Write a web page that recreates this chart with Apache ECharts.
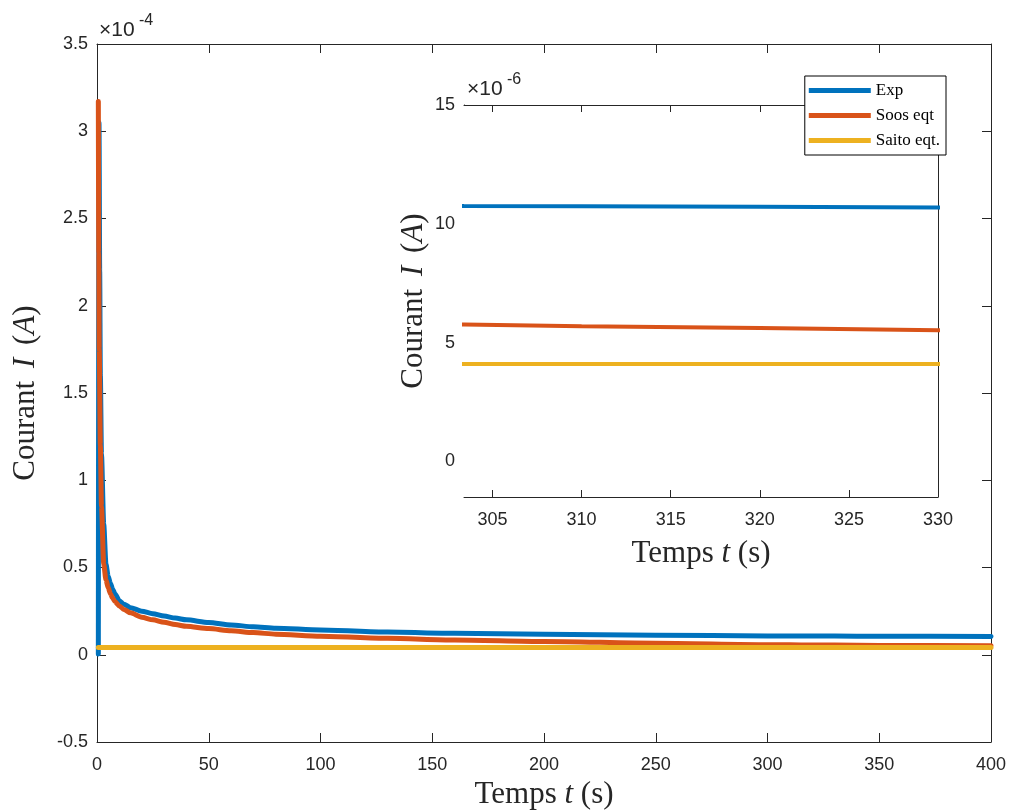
<!DOCTYPE html>
<html>
<head>
<meta charset="utf-8">
<script src="https://cdn.jsdelivr.net/npm/echarts@6/dist/echarts.min.js"></script>
<style>
html,body{margin:0;padding:0;background:#fff;}
#chart{width:1010px;height:810px;}
</style>
</head>
<body>
<div id="chart"></div>
<script>
// ---- data (current in A, time in s) ----
const seriesNames = ['Exp', 'Soos eqt', 'Saito eqt.'];
const expT  = [0.6, 0.9, 1.2, 1.5, 2, 3, 4, 5, 6, 7, 8, 10, 12, 15, 20, 25, 30, 35, 40, 50, 60, 70, 80, 100, 130, 160, 200, 250, 300, 303.4, 310, 320, 330, 350, 400];
const expI  = [0.005e-4, 3.05e-4, 2.2e-4, 1.6e-4, 1.15e-4, 0.75e-4, 0.52e-4, 0.45e-4, 0.41e-4, 0.375e-4, 0.35e-4, 0.31e-4, 0.29e-4, 0.27e-4, 0.25e-4, 0.235e-4, 0.222e-4, 0.21e-4, 0.2e-4, 0.185e-4, 0.171e-4, 0.16e-4, 0.152e-4, 0.142e-4, 0.13e-4, 0.123e-4, 0.117e-4, 0.112e-4, 0.1078e-4, 0.1075e-4, 0.1074e-4, 0.1072e-4, 0.1069e-4, 0.1063e-4, 0.105e-4];
const soosT = [0.6, 0.8, 1, 1.5, 2, 3, 4, 5, 6, 7, 8, 10, 12, 15, 20, 25, 30, 35, 40, 50, 60, 70, 80, 100, 130, 160, 200, 250, 300, 303.4, 310, 320, 330, 350, 400];
const soosI = [3.17e-4, 2.3e-4, 1.75e-4, 1.2e-4, 0.85e-4, 0.52e-4, 0.43e-4, 0.385e-4, 0.35e-4, 0.325e-4, 0.305e-4, 0.28e-4, 0.26e-4, 0.24e-4, 0.215e-4, 0.2e-4, 0.186e-4, 0.173e-4, 0.163e-4, 0.15e-4, 0.137e-4, 0.127e-4, 0.118e-4, 0.106e-4, 0.094e-4, 0.085e-4, 0.076e-4, 0.066e-4, 0.0578e-4, 0.0576e-4, 0.0569e-4, 0.0561e-4, 0.0552e-4, 0.0536e-4, 0.051e-4];
const saitoT = [0.6, 100, 200, 300, 303.4, 330, 400];
const saitoI = [0.041e-4, 0.041e-4, 0.041e-4, 0.041e-4, 0.041e-4, 0.041e-4, 0.041e-4];
const mainXTicks = [0, 50, 100, 150, 200, 250, 300, 350, 400];
const mainYTicks = [-0.5, 0, 0.5, 1, 1.5, 2, 2.5, 3, 3.5];   // ×1e-4
const insetXTicks = [305, 310, 315, 320, 325, 330];
const insetYTicks = [0, 5, 10, 15];                          // ×1e-6
const colors = ['#0072BD', '#D95319', '#EDB120'];

// ---- build ----
const mainScale = 1e4, insetScale = 1e6;
function pairs(t, v, s) { return t.map((x, i) => [x, v[i] * s]); }
const seriesT = [expT, soosT, saitoT], seriesI = [expI, soosI, saitoI];

const axisColor = '#262626';
const tickFont = {fontFamily: 'Liberation Sans, Arial, sans-serif', fontSize: 18, color: '#262626'};
const serif = 'Liberation Serif, DejaVu Serif, serif';
const FS = 31;
const nameStyle = {fontFamily: serif, fontSize: FS, color: '#262626',
  rich: {n: {fontFamily: serif, fontSize: FS, color: '#262626'},
         i: {fontFamily: serif, fontSize: FS, fontStyle: 'italic', color: '#262626'},
         m: {fontFamily: serif, fontSize: FS, fontStyle: 'italic', color: '#262626', padding: [0, 5, 0, 5]}}};

function xAx(grid, min, max, ticks, show, pos, tickLen, name, gap) {
  return {
    type: 'value', gridIndex: grid, min: min, max: max, position: pos,
    axisLine: {show: true, onZero: false, lineStyle: {color: axisColor, width: 1}},
    axisTick: {show: true, inside: true, length: tickLen, customValues: ticks, lineStyle: {color: axisColor}},
    axisLabel: show ? Object.assign({margin: 14, customValues: ticks, formatter: v => String(v)}, tickFont) : {show: false},
    splitLine: {show: false},
    name: name || '', nameLocation: 'middle', nameGap: gap || 40,
    nameTextStyle: nameStyle
  };
}
function yAx(grid, min, max, ticks, show, pos, tickLen, name, gap) {
  return {
    type: 'value', gridIndex: grid, min: min, max: max, position: pos,
    axisLine: {show: true, onZero: false, lineStyle: {color: axisColor, width: 1}},
    axisTick: {show: true, inside: true, length: tickLen, customValues: ticks, lineStyle: {color: axisColor}},
    axisLabel: show ? Object.assign({margin: 9, customValues: ticks, formatter: v => String(parseFloat(v.toFixed(2)))}, tickFont) : {show: false},
    splitLine: {show: false},
    name: name || '', nameLocation: 'middle', nameGap: gap || 40, nameRotate: 90,
    nameTextStyle: nameStyle
  };
}

const series = [];
for (let k = 0; k < 3; k++) {
  series.push({
    name: seriesNames[k], type: 'line', xAxisIndex: 0, yAxisIndex: 0,
    data: pairs(seriesT[k], seriesI[k], mainScale), showSymbol: false, symbol: 'none',
    smooth: 0.25, smoothMonotone: 'x',
    lineStyle: {color: colors[k], width: 5, cap: 'round', join: 'round'}, itemStyle: {color: colors[k]},
    clip: false, animation: false, z: 2 + k
  });
}
for (let k = 0; k < 3; k++) {
  series.push({
    name: seriesNames[k], type: 'line', xAxisIndex: 2, yAxisIndex: 2,
    data: pairs(seriesT[k], seriesI[k], insetScale), showSymbol: false, symbol: 'none',
    lineStyle: {color: colors[k], width: 4, cap: 'round'}, itemStyle: {color: colors[k]},
    clip: true, animation: false, z: 12 + k
  });
}

const ylabel = '{n|Courant }{m|I}{n| (}{i|A}{n|)}';
const xlabel = '{n|Temps }{i|t}{n| (s)}';
const chart = echarts.init(document.getElementById('chart'), null, {renderer: 'canvas'});
chart.setOption({
  backgroundColor: '#fff',
  animation: false,
  grid: [
    {left: 97, right: 19, top: 44, bottom: 68, show: false, outerBoundsMode: 'none', containLabel: false},
    {left: 464, right: 72, top: 105, bottom: 313, show: true, backgroundColor: '#fff', borderWidth: 0, z: 10, outerBoundsMode: 'none', containLabel: false}
  ],
  xAxis: [
    xAx(0, 0, 400, mainXTicks, true, 'bottom', 9, xlabel, 37),
    xAx(0, 0, 400, mainXTicks, false, 'top', 9),
    Object.assign(xAx(1, 303.4, 330, insetXTicks, true, 'bottom', 7, xlabel, 41), {z: 11}),
    Object.assign(xAx(1, 303.4, 330, insetXTicks, false, 'top', 7), {z: 11})
  ],
  yAxis: [
    yAx(0, -0.5, 3.5, mainYTicks, true, 'left', 9, ylabel, 56),
    yAx(0, -0.5, 3.5, mainYTicks, false, 'right', 9),
    yAx(1, -1.5, 15, insetYTicks, true, 'left', 7, ylabel, 35),
    yAx(1, -1.5, 15, insetYTicks, false, 'right', 7)
  ],
  legend: {
    data: seriesNames, right: 64, top: 76, orient: 'vertical',
    backgroundColor: '#fff', borderColor: '#000', borderWidth: 1, borderRadius: 0,
    padding: [6, 6, 6, 4], itemGap: 8, itemWidth: 62, itemHeight: 5, icon: 'rect',
    textStyle: {fontFamily: serif, fontSize: 17, color: '#000'}, z: 20
  },
  graphic: [
    {type: 'text', left: 99, top: 20, style: {text: '×10', font: '21px Liberation Sans, Arial, sans-serif', fill: '#262626'}},
    {type: 'text', left: 139, top: 13, style: {text: '-4', font: '16px Liberation Sans, Arial, sans-serif', fill: '#262626'}},
    {type: 'text', left: 467, top: 79, style: {text: '×10', font: '21px Liberation Sans, Arial, sans-serif', fill: '#262626'}, z: 30},
    {type: 'text', left: 507, top: 72, style: {text: '-6', font: '16px Liberation Sans, Arial, sans-serif', fill: '#262626'}, z: 30}
  ],
  series: series
});
</script>
</body>
</html>
